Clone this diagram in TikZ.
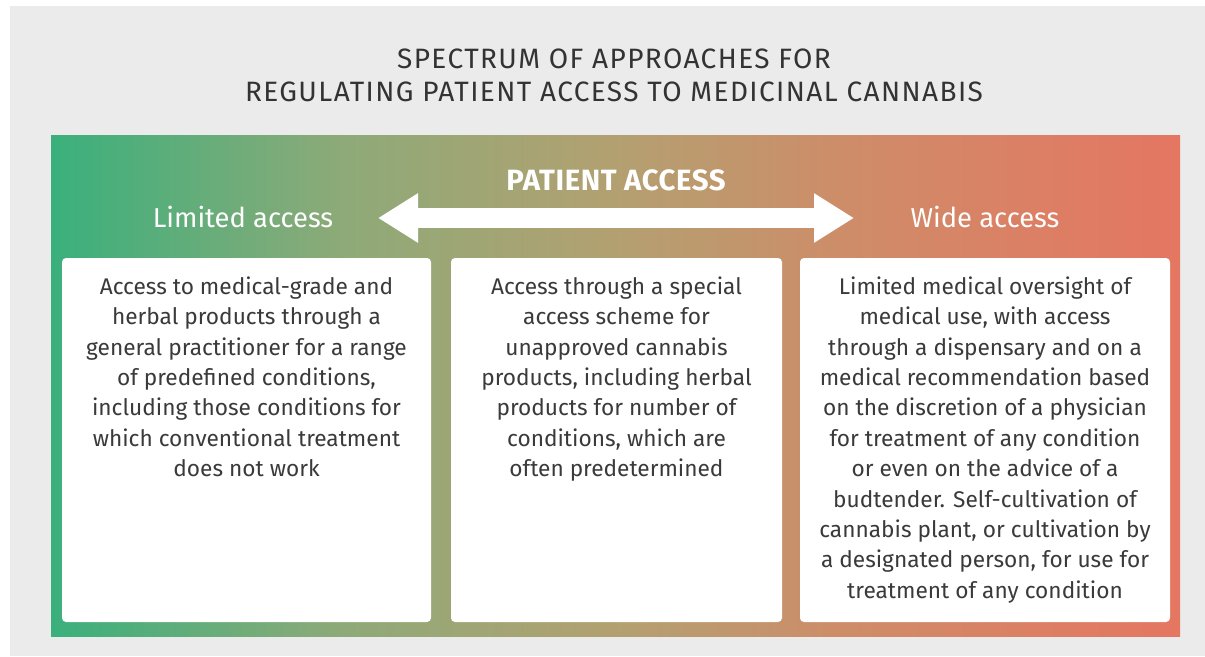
\documentclass[tikz,border=0pt]{standalone}
\usepackage{fontspec}
\setmainfont{Fira Sans}
\usetikzlibrary{arrows.meta,positioning}

\definecolor{bggray}{HTML}{EBEBEB}
\definecolor{titlegray}{HTML}{333333}
\definecolor{textgray}{HTML}{3A3A3A}
\definecolor{accgreen}{HTML}{3AB07C}
\definecolor{accsage}{HTML}{8EAA78}
\definecolor{accmid}{HTML}{B3A071}
\definecolor{accclay}{HTML}{D08B68}
\definecolor{accred}{HTML}{E57661}

\pgfdeclarehorizontalshading{accessband}{100bp}{color(0bp)=(accgreen); color(25bp)=(accgreen);
  color(38bp)=(accsage); color(50bp)=(accmid); color(61bp)=(accclay);
  color(75bp)=(accred); color(100bp)=(accred)}

\tikzset{
  panel/.style={fill=white, rounded corners=3pt, minimum height=273pt, inner sep=0pt},
  paneltext/.style={align=center, inner sep=0pt, text=textgray,
    font=\fontsize{17}{22.8}\selectfont},
  sidelabel/.style={text=white, font=\fontsize{20.5}{24}\selectfont},
  widearrow/.style={white, line width=15pt,
    {Triangle[length=30pt,width=35pt]}-{Triangle[length=30pt,width=35pt]}}
}

\begin{document}
\begin{tikzpicture}[x=0.75pt,y=-0.75pt]
\useasboundingbox (0,0) rectangle (1205,656);
\fill[white] (0,0) rectangle (1205,656);
\fill[bggray] (10,6) rectangle (1205,656);

% Title
\node[align=center, text=titlegray, font=\fontsize{21}{24.75}\selectfont\addfontfeatures{LetterSpace=5}] (title) at (614,75)
  {SPECTRUM OF APPROACHES FOR\\REGULATING PATIENT ACCESS TO MEDICINAL CANNABIS};

% Colour band
\shade[shading=accessband] (51,136) rectangle (1180,636);

% Access scale
\node[text=white, font=\fontsize{22}{26}\selectfont\bfseries\addfontfeatures{LetterSpace=2}] (scale) at (616,180) {PATIENT ACCESS};
\node[sidelabel] (limited) at (243,217) {Limited access};
\node[sidelabel] (wide) at (985,217) {Wide access};
\coordinate (tipL) at (378,218);
\coordinate (tipR) at (854,218);
\draw[widearrow] (tipL) -- (tipR);

% Panels
\node[panel, minimum width=276.75pt] (boxL) at (246.5,440) {};
\node[panel, minimum width=248.25pt] (boxM) at (616.5,440) {};
\node[panel, minimum width=277.5pt] (boxR) at (985,440) {};

\node[paneltext, below=14pt of boxL.north] (textL)
  {Access to medical-grade and\\herbal products through a\\general practitioner for a range\\of predefined conditions,\\including those conditions for\\which conventional treatment\\does not work};
\node[paneltext, below=14pt of boxM.north] (textM)
  {Access through a special\\access scheme for\\unapproved cannabis\\products, including herbal\\products for number of\\conditions, which are\\often predetermined};
\node[paneltext, below=14pt of boxR.north] (textR)
  {Limited medical oversight of\\medical use, with access\\through a dispensary and on a\\medical recommendation based\\on the discretion of a physician\\for treatment of any condition\\or even on the advice of a\\budtender. Self-cultivation of\\cannabis plant, or cultivation by\\a designated person, for use for\\treatment of any condition};
\end{tikzpicture}
\end{document}
